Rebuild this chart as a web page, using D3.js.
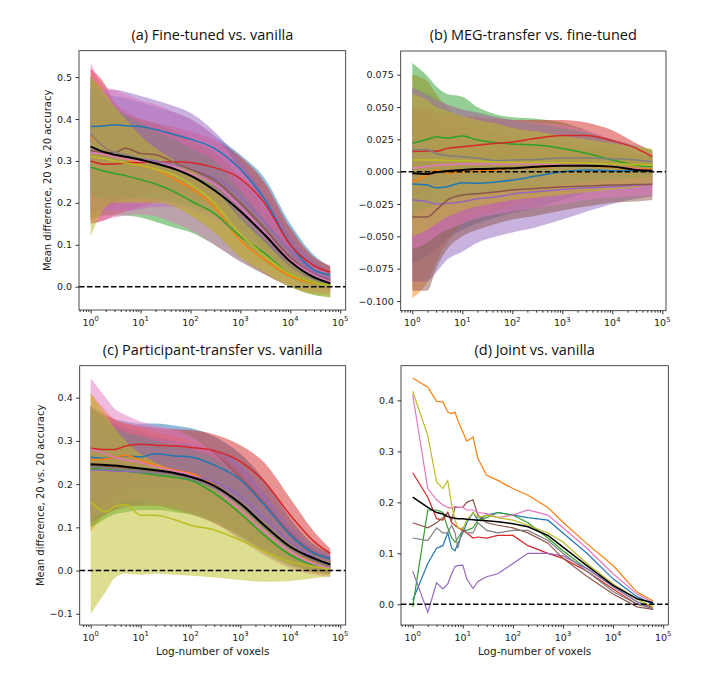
<!DOCTYPE html>
<html>
<head>
<meta charset="utf-8">
<script src="https://cdn.jsdelivr.net/npm/d3@7"></script>
<style>
body { margin: 0; background: #fff; }
text { font-family: "DejaVu Sans", sans-serif; }
</style>
</head>
<body>
<div id="chart"></div>
<script>
// tab10 order: blue, orange, green, red, purple, brown, pink, gray, olive
const colors = ["#1f77b4", "#ff7f0e", "#2ca02c", "#d62728", "#9467bd", "#8c564b", "#e377c2", "#7f7f7f", "#bcbd22"];

// voxel counts sampled for panels a-c
const vox = [1, 2, 3, 5, 10, 20, 50, 100, 300, 1000, 3000, 10000, 30000, 63000];

// (a) Fine-tuned vs. vanilla
const aMean = [
  [0.382, 0.384, 0.386, 0.384, 0.382, 0.375, 0.362, 0.352, 0.33, 0.28, 0.21, 0.1, 0.04, 0.028],
  [0.36, 0.33, 0.315, 0.305, 0.29, 0.28, 0.255, 0.235, 0.19, 0.11, 0.065, 0.025, 0.008, 0.003],
  [0.285, 0.275, 0.27, 0.265, 0.255, 0.245, 0.225, 0.205, 0.175, 0.12, 0.08, 0.03, 0.01, 0.003],
  [0.3, 0.292, 0.293, 0.295, 0.296, 0.297, 0.298, 0.296, 0.284, 0.258, 0.2, 0.1, 0.05, 0.035],
  [0.325, 0.32, 0.315, 0.31, 0.305, 0.3, 0.29, 0.28, 0.26, 0.215, 0.155, 0.085, 0.035, 0.018],
  [0.325, 0.32, 0.32, 0.33, 0.318, 0.315, 0.295, 0.28, 0.255, 0.2, 0.14, 0.07, 0.03, 0.015],
  [0.32, 0.315, 0.31, 0.305, 0.3, 0.295, 0.285, 0.27, 0.245, 0.19, 0.13, 0.065, 0.028, 0.012],
  [0.365, 0.33, 0.32, 0.315, 0.305, 0.295, 0.28, 0.265, 0.235, 0.165, 0.11, 0.05, 0.018, 0.008],
  [0.31, 0.305, 0.3, 0.295, 0.29, 0.28, 0.265, 0.245, 0.2, 0.125, 0.075, 0.03, 0.01, 0.003]
];
const aLo = [
  [0.29, 0.29, 0.29, 0.29, 0.285, 0.28, 0.27, 0.26, 0.23, 0.19, 0.13, 0.05, 0.01, 0.005],
  [0.16, 0.18, 0.19, 0.2, 0.2, 0.2, 0.19, 0.17, 0.13, 0.07, 0.03, 0.0, -0.015, -0.015],
  [0.16, 0.17, 0.17, 0.17, 0.165, 0.155, 0.14, 0.13, 0.1, 0.06, 0.03, 0.0, -0.02, -0.025],
  [0.15, 0.16, 0.17, 0.18, 0.19, 0.2, 0.21, 0.21, 0.2, 0.17, 0.12, 0.05, 0.015, 0.01],
  [0.18, 0.18, 0.18, 0.18, 0.185, 0.19, 0.19, 0.185, 0.16, 0.12, 0.08, 0.03, 0.0, -0.01],
  [0.17, 0.19, 0.2, 0.21, 0.22, 0.23, 0.22, 0.21, 0.19, 0.14, 0.09, 0.04, 0.01, 0.0],
  [0.15, 0.16, 0.165, 0.17, 0.172, 0.168, 0.15, 0.135, 0.1, 0.06, 0.03, 0.0, -0.015, -0.02],
  [0.22, 0.21, 0.21, 0.21, 0.21, 0.21, 0.2, 0.19, 0.17, 0.11, 0.06, 0.02, 0.0, -0.005],
  [0.12, 0.19, 0.2, 0.2, 0.2, 0.2, 0.19, 0.17, 0.13, 0.07, 0.035, 0.0, -0.02, -0.025]
];
const aHi = [
  [0.47, 0.46, 0.455, 0.45, 0.44, 0.43, 0.415, 0.4, 0.36, 0.315, 0.26, 0.15, 0.075, 0.048],
  [0.52, 0.47, 0.44, 0.4, 0.36, 0.34, 0.31, 0.29, 0.25, 0.18, 0.12, 0.06, 0.025, 0.015],
  [0.5, 0.46, 0.43, 0.4, 0.36, 0.33, 0.28, 0.26, 0.22, 0.16, 0.11, 0.05, 0.02, 0.01],
  [0.52, 0.48, 0.44, 0.42, 0.4, 0.39, 0.38, 0.37, 0.35, 0.31, 0.25, 0.14, 0.07, 0.05],
  [0.47, 0.47, 0.47, 0.465, 0.455, 0.445, 0.43, 0.415, 0.37, 0.3, 0.22, 0.12, 0.06, 0.035],
  [0.48, 0.44, 0.42, 0.41, 0.4, 0.39, 0.37, 0.35, 0.32, 0.26, 0.19, 0.1, 0.05, 0.03],
  [0.535, 0.475, 0.47, 0.46, 0.445, 0.435, 0.415, 0.4, 0.36, 0.28, 0.2, 0.1, 0.05, 0.03],
  [0.5, 0.45, 0.43, 0.41, 0.39, 0.37, 0.35, 0.33, 0.3, 0.23, 0.16, 0.09, 0.04, 0.025],
  [0.5, 0.46, 0.43, 0.4, 0.36, 0.33, 0.3, 0.28, 0.24, 0.17, 0.11, 0.055, 0.022, 0.012]
];
const aBlack = [0.334, 0.32, 0.315, 0.31, 0.303, 0.294, 0.28, 0.265, 0.23, 0.18, 0.125, 0.06, 0.022, 0.008];

// (b) MEG-transfer vs. fine-tuned
const bMean = [
  [-0.0096, -0.0103, -0.0124, -0.0117, -0.0085, -0.009, -0.0078, -0.0065, -0.0034, 0.0, 0.0013, 0.0008, 0.0008, 0.0008],
  [-0.0077, -0.0026, 0.0013, -0.0013, 0.0, 0.0005, 0.0015, 0.0026, 0.0035, 0.0044, 0.0042, 0.0035, 0.0025, 0.0018],
  [0.0219, 0.025, 0.027, 0.026, 0.0276, 0.0245, 0.0224, 0.0214, 0.0206, 0.018, 0.0142, 0.009, 0.005, 0.0039],
  [0.0155, 0.016, 0.0158, 0.018, 0.0193, 0.0205, 0.0219, 0.023, 0.0258, 0.028, 0.028, 0.024, 0.018, 0.0116],
  [-0.022, -0.0232, -0.025, -0.0245, -0.0232, -0.021, -0.0194, -0.0173, -0.0155, -0.0137, -0.0125, -0.0117, -0.0105, -0.0098],
  [-0.035, -0.035, -0.0297, -0.022, -0.018, -0.017, -0.0155, -0.0142, -0.013, -0.0117, -0.011, -0.0103, -0.01, -0.0098],
  [0.0026, 0.004, 0.005, 0.0055, 0.0059, 0.006, 0.006, 0.0059, 0.0058, 0.0055, 0.005, 0.004, 0.002, 0.0008],
  [0.017, 0.017, 0.014, 0.0125, 0.0116, 0.0103, 0.0085, 0.009, 0.0095, 0.0106, 0.0106, 0.01, 0.009, 0.0077],
  [0.009, 0.009, 0.009, 0.0088, 0.0085, 0.008, 0.0075, 0.007, 0.007, 0.0069, 0.0065, 0.006, 0.0055, 0.005]
];
const bLo = [
  [-0.07, -0.065, -0.06, -0.052, -0.045, -0.04, -0.035, -0.032, -0.028, -0.022, -0.016, -0.012, -0.01, -0.01],
  [-0.098, -0.085, -0.07, -0.055, -0.04, -0.035, -0.03, -0.027, -0.022, -0.018, -0.015, -0.012, -0.01, -0.008],
  [-0.035, -0.025, -0.018, -0.012, -0.008, -0.006, -0.004, -0.003, -0.002, -0.002, -0.003, -0.004, -0.004, -0.004],
  [-0.02, -0.015, -0.012, -0.008, -0.005, -0.002, 0.0, 0.002, 0.004, 0.006, 0.005, 0.002, 0.0, 0.0],
  [-0.085, -0.085, -0.078, -0.068, -0.062, -0.055, -0.05, -0.047, -0.043, -0.037, -0.031, -0.025, -0.021, -0.019],
  [-0.092, -0.092, -0.075, -0.06, -0.05, -0.045, -0.04, -0.037, -0.034, -0.03, -0.027, -0.024, -0.023, -0.022],
  [-0.06, -0.055, -0.05, -0.045, -0.04, -0.036, -0.033, -0.031, -0.028, -0.025, -0.022, -0.02, -0.019, -0.018],
  [-0.03, -0.028, -0.025, -0.022, -0.02, -0.018, -0.016, -0.014, -0.012, -0.01, -0.008, -0.006, -0.005, -0.004],
  [-0.05, -0.045, -0.04, -0.035, -0.03, -0.027, -0.024, -0.022, -0.02, -0.018, -0.016, -0.014, -0.012, -0.01]
];
const bHi = [
  [0.05, 0.045, 0.04, 0.035, 0.03, 0.027, 0.024, 0.022, 0.02, 0.019, 0.017, 0.014, 0.012, 0.012],
  [0.075, 0.07, 0.06, 0.05, 0.04, 0.035, 0.03, 0.027, 0.025, 0.022, 0.02, 0.017, 0.013, 0.012],
  [0.084, 0.074, 0.066, 0.06, 0.058, 0.05, 0.044, 0.042, 0.041, 0.038, 0.032, 0.024, 0.015, 0.012],
  [0.05, 0.048, 0.046, 0.045, 0.043, 0.042, 0.041, 0.04, 0.04, 0.04, 0.038, 0.032, 0.022, 0.016],
  [0.03, 0.02, 0.015, 0.012, 0.01, 0.008, 0.008, 0.007, 0.006, 0.005, 0.004, 0.002, 0.0, -0.002],
  [0.02, 0.015, 0.01, 0.01, 0.008, 0.007, 0.006, 0.005, 0.004, 0.003, 0.002, 0.001, 0.0, 0.0],
  [0.065, 0.058, 0.055, 0.052, 0.048, 0.045, 0.042, 0.04, 0.038, 0.036, 0.032, 0.025, 0.018, 0.015],
  [0.065, 0.06, 0.056, 0.052, 0.048, 0.046, 0.042, 0.04, 0.037, 0.034, 0.03, 0.025, 0.02, 0.017],
  [0.06, 0.055, 0.05, 0.047, 0.043, 0.04, 0.037, 0.034, 0.031, 0.028, 0.025, 0.022, 0.019, 0.018]
];
const bBlack = [-0.0013, -0.0018, -0.0005, 0.0005, 0.0013, 0.002, 0.0024, 0.0026, 0.0038, 0.0046, 0.0046, 0.0039, 0.0013, 0.0008];

// (c) Participant-transfer vs. vanilla
const cMean = [
  [0.262, 0.26, 0.262, 0.265, 0.263, 0.27, 0.265, 0.263, 0.244, 0.21, 0.152, 0.082, 0.04, 0.028],
  [0.256, 0.258, 0.262, 0.266, 0.255, 0.244, 0.232, 0.225, 0.198, 0.155, 0.103, 0.05, 0.02, 0.01],
  [0.236, 0.234, 0.232, 0.23, 0.226, 0.221, 0.215, 0.209, 0.179, 0.132, 0.082, 0.036, 0.013, 0.009],
  [0.283, 0.28, 0.28, 0.288, 0.292, 0.29, 0.288, 0.285, 0.277, 0.252, 0.206, 0.128, 0.067, 0.04],
  [0.232, 0.232, 0.23, 0.23, 0.228, 0.226, 0.222, 0.218, 0.205, 0.172, 0.122, 0.065, 0.03, 0.015],
  [0.243, 0.24, 0.24, 0.238, 0.234, 0.23, 0.222, 0.215, 0.195, 0.155, 0.105, 0.055, 0.025, 0.012],
  [0.281, 0.27, 0.262, 0.256, 0.25, 0.24, 0.23, 0.221, 0.19, 0.14, 0.09, 0.044, 0.015, 0.006],
  [0.24, 0.238, 0.236, 0.234, 0.23, 0.226, 0.22, 0.212, 0.19, 0.15, 0.1, 0.05, 0.022, 0.01],
  [0.159, 0.136, 0.148, 0.152, 0.128, 0.128, 0.117, 0.105, 0.094, 0.07, 0.044, 0.02, 0.009, 0.003]
];
const cLo = [
  [0.14, 0.16, 0.17, 0.18, 0.185, 0.19, 0.19, 0.185, 0.17, 0.14, 0.09, 0.04, 0.01, 0.0],
  [0.09, 0.13, 0.145, 0.155, 0.162, 0.16, 0.15, 0.14, 0.115, 0.085, 0.05, 0.015, -0.005, -0.01],
  [0.1, 0.12, 0.13, 0.135, 0.14, 0.14, 0.135, 0.13, 0.11, 0.075, 0.04, 0.01, -0.005, -0.008],
  [0.13, 0.16, 0.18, 0.2, 0.21, 0.21, 0.21, 0.21, 0.2, 0.18, 0.13, 0.06, 0.02, 0.01],
  [0.11, 0.13, 0.14, 0.15, 0.155, 0.16, 0.16, 0.155, 0.14, 0.11, 0.07, 0.03, 0.005, -0.005],
  [0.11, 0.13, 0.14, 0.15, 0.15, 0.15, 0.14, 0.13, 0.11, 0.08, 0.045, 0.015, 0.0, -0.005],
  [0.12, 0.14, 0.15, 0.16, 0.16, 0.155, 0.145, 0.135, 0.11, 0.07, 0.035, 0.005, -0.01, -0.015],
  [0.1, 0.13, 0.14, 0.145, 0.15, 0.15, 0.145, 0.135, 0.115, 0.08, 0.045, 0.015, 0.0, -0.005],
  [-0.1, -0.049, -0.018, -0.007, -0.01, -0.007, -0.01, -0.012, -0.016, -0.022, -0.026, -0.024, -0.018, -0.014]
];
const cHi = [
  [0.38, 0.36, 0.35, 0.345, 0.34, 0.34, 0.335, 0.33, 0.31, 0.27, 0.21, 0.12, 0.06, 0.04],
  [0.41, 0.37, 0.35, 0.34, 0.33, 0.32, 0.31, 0.3, 0.28, 0.23, 0.16, 0.09, 0.045, 0.03],
  [0.37, 0.34, 0.33, 0.32, 0.31, 0.3, 0.29, 0.28, 0.25, 0.19, 0.125, 0.065, 0.03, 0.025],
  [0.38, 0.36, 0.35, 0.34, 0.335, 0.33, 0.327, 0.325, 0.315, 0.29, 0.25, 0.167, 0.09, 0.051],
  [0.36, 0.34, 0.33, 0.32, 0.31, 0.305, 0.3, 0.295, 0.28, 0.245, 0.18, 0.1, 0.05, 0.035],
  [0.38, 0.35, 0.34, 0.33, 0.32, 0.31, 0.3, 0.29, 0.27, 0.22, 0.16, 0.09, 0.045, 0.03],
  [0.445, 0.4, 0.375, 0.36, 0.345, 0.335, 0.325, 0.31, 0.27, 0.21, 0.15, 0.08, 0.035, 0.025],
  [0.38, 0.35, 0.33, 0.32, 0.31, 0.3, 0.29, 0.28, 0.26, 0.21, 0.15, 0.085, 0.04, 0.025],
  [0.41, 0.36, 0.33, 0.3, 0.27, 0.25, 0.23, 0.21, 0.19, 0.15, 0.11, 0.06, 0.03, 0.02]
];
const cBlack = [0.246, 0.244, 0.243, 0.24, 0.236, 0.232, 0.225, 0.217, 0.196, 0.155, 0.105, 0.055, 0.028, 0.014];

// (d) Joint vs. vanilla, no bands, denser sampling
const voxD = [1, 2, 3, 4, 5, 6, 7, 8, 10, 12, 16, 20, 30, 50, 100, 200, 500, 1000, 3000, 10000, 30000, 63000];
const dMean = [
  [0.008, 0.08, 0.11, 0.115, 0.14, 0.11, 0.105, 0.12, 0.14, 0.16, 0.18, 0.165, 0.175, 0.18, 0.175, 0.17, 0.165, 0.14, 0.1, 0.05, 0.015, 0.0],
  [0.444, 0.426, 0.398, 0.397, 0.377, 0.374, 0.377, 0.36, 0.338, 0.32, 0.328, 0.286, 0.253, 0.243, 0.227, 0.214, 0.19, 0.161, 0.119, 0.076, 0.024, 0.0065],
  [-0.005, 0.185, 0.185, 0.18, 0.15, 0.13, 0.122, 0.13, 0.145, 0.145, 0.15, 0.165, 0.17, 0.18, 0.175, 0.16, 0.13, 0.105, 0.07, 0.035, 0.005, -0.005],
  [0.258, 0.21, 0.168, 0.165, 0.18, 0.16, 0.155, 0.15, 0.145, 0.14, 0.13, 0.132, 0.13, 0.135, 0.135, 0.115, 0.1, 0.09, 0.065, 0.03, 0.0, -0.005],
  [0.065, -0.016, 0.042, 0.03, 0.04, 0.06, 0.074, 0.076, 0.077, 0.05, 0.031, 0.045, 0.054, 0.06, 0.08, 0.1, 0.1, 0.095, 0.07, 0.035, 0.005, -0.01],
  [0.16, 0.15, 0.16, 0.17, 0.18, 0.165, 0.19, 0.19, 0.19, 0.2, 0.205, 0.175, 0.16, 0.155, 0.15, 0.14, 0.12, 0.09, 0.055, 0.02, -0.005, -0.01],
  [0.411, 0.227, 0.205, 0.195, 0.19, 0.188, 0.192, 0.19, 0.19, 0.185, 0.185, 0.18, 0.178, 0.17, 0.175, 0.185, 0.175, 0.15, 0.11, 0.06, 0.02, 0.003],
  [0.13, 0.125, 0.15, 0.14, 0.14, 0.155, 0.14, 0.11, 0.15, 0.14, 0.14, 0.16, 0.145, 0.14, 0.145, 0.145, 0.125, 0.1, 0.065, 0.025, 0.0, -0.008],
  [0.418, 0.331, 0.24, 0.227, 0.243, 0.194, 0.165, 0.15, 0.148, 0.165, 0.18, 0.17, 0.175, 0.17, 0.165, 0.155, 0.14, 0.122, 0.08, 0.04, 0.01, -0.005]
];
const dBlack = [0.21, 0.19, 0.18, 0.177, 0.172, 0.17, 0.169, 0.168, 0.168, 0.167, 0.166, 0.165, 0.164, 0.162, 0.158, 0.152, 0.135, 0.112, 0.076, 0.037, 0.011, 0.003];

const yLabel = "Mean difference, 20 vs. 20 accuracy";
const xLabel = "Log-number of voxels";

const svg = d3.select("#chart").append("svg")
  .attr("width", 706).attr("height", 679);

const panels = [
  {title: "(a) Fine-tuned vs. vanilla", l: 79, r: 345.7, t: 50.7, b: 310, xd: [-0.234, 5.11], yd: [-0.0556, 0.563],
   yt: [0, 0.1, 0.2, 0.3, 0.4, 0.5], fmt: ".1f", xs: vox, mean: aMean, lo: aLo, hi: aHi, black: aBlack, ylab: true, xlab: false, ty: 40, lx: 47},
  {title: "(b) MEG-transfer vs. fine-tuned", l: 400.7, r: 666, t: 51, b: 310.7, xd: [-0.232, 5.074], yd: [-0.1075, 0.0933],
   yt: [-0.1, -0.075, -0.05, -0.025, 0, 0.025, 0.05, 0.075], fmt: ".3f", xs: vox, mean: bMean, lo: bLo, hi: bHi, black: bBlack, ylab: false, xlab: false, ty: 40},
  {title: "(c) Participant-transfer vs. vanilla", l: 79.7, r: 345.7, t: 365.7, b: 625, xd: [-0.2205, 5.11], yd: [-0.126, 0.474],
   yt: [-0.1, 0, 0.1, 0.2, 0.3, 0.4], fmt: ".1f", xs: vox, mean: cMean, lo: cLo, hi: cHi, black: cBlack, ylab: true, xlab: true, ty: 355, lx: 40},
  {title: "(d) Joint vs. vanilla", l: 401, r: 668.3, t: 365.7, b: 625, xd: [-0.2335, 5.102], yd: [-0.0406, 0.468],
   yt: [0, 0.1, 0.2, 0.3, 0.4], fmt: ".1f", xs: voxD, mean: dMean, lo: null, hi: null, black: dBlack, ylab: false, xlab: true, ty: 355}
];

panels.forEach((p, pi) => drawPanel(p, pi));

function drawPanel(p, pi) {
  const g = svg.append("g");
  const x = d3.scaleLog().domain([Math.pow(10, p.xd[0]), Math.pow(10, p.xd[1])]).range([p.l, p.r]);
  const y = d3.scaleLinear().domain(p.yd).range([p.b, p.t]);

  g.append("clipPath").attr("id", "clip" + pi)
    .append("rect").attr("x", p.l).attr("y", p.t).attr("width", p.r - p.l).attr("height", p.b - p.t);
  const plot = g.append("g").attr("clip-path", "url(#clip" + pi + ")");

  const curve = p.lo ? d3.curveMonotoneX : d3.curveLinear;

  // shaded bands
  if (p.lo) {
    const area = d3.area().curve(curve)
      .x((d, i) => x(p.xs[i]))
      .y0(d => y(d[0])).y1(d => y(d[1]));
    p.lo.forEach((lo, s) => {
      plot.append("path")
        .datum(lo.map((v, i) => [v, p.hi[s][i]]))
        .attr("d", area)
        .attr("fill", colors[s]).attr("fill-opacity", 0.5);
    });
  }

  const line = d3.line().curve(curve).x((d, i) => x(p.xs[i])).y(d => y(d));
  p.mean.forEach((m, s) => {
    plot.append("path").datum(m).attr("d", line)
      .attr("fill", "none").attr("stroke", colors[s])
      .attr("stroke-width", p.lo ? 1.5 : 1.2);
  });
  plot.append("path").datum(p.black).attr("d", line)
    .attr("fill", "none").attr("stroke", "#000").attr("stroke-width", p.lo ? 2 : 1.5);

  // zero line
  g.append("line").attr("x1", p.l).attr("x2", p.r).attr("y1", y(0)).attr("y2", y(0))
    .attr("stroke", "#000").attr("stroke-width", 1.5).attr("stroke-dasharray", "5.5,2.5");

  // axes
  const majors = [1, 10, 100, 1000, 10000, 100000];
  const minors = [];
  for (let e = -1; e < 5; e++) {
    for (let k = 2; k < 10; k++) {
      const v = k * Math.pow(10, e);
      if (v >= x.domain()[0] && v <= x.domain()[1]) minors.push(v);
    }
  }
  const xg = g.append("g").attr("transform", "translate(0," + p.b + ")");
  xg.append("g").call(d3.axisBottom(x).tickValues(minors).tickSize(2).tickFormat(""));
  xg.append("g").call(d3.axisBottom(x).tickValues(majors).tickSize(3.5).tickFormat(""));
  xg.selectAll(".domain").remove();
  xg.selectAll("line").attr("stroke", "#000").attr("stroke-width", 0.8);

  const xt = g.selectAll(".xtl").data(majors).enter().append("text")
    .attr("x", d => x(d)).attr("y", p.b + 15.5)
    .attr("text-anchor", "middle").attr("font-size", "9.5px").attr("fill", "#222");
  xt.append("tspan").text("10");
  xt.append("tspan").attr("dy", -4.5).attr("font-size", "6.8px").text(d => Math.round(Math.log10(d)));

  const yg = g.append("g").attr("transform", "translate(" + p.l + ",0)")
    .call(d3.axisLeft(y).tickValues(p.yt).tickSize(3.5).tickPadding(3.5)
      .tickFormat(d => d3.format(p.fmt)(d).replace("-", "\u2212")));
  yg.selectAll(".domain").remove();
  yg.selectAll("line").attr("stroke", "#000").attr("stroke-width", 0.8);
  yg.selectAll("text").attr("font-size", "9.5px").attr("font-family", "DejaVu Sans").attr("fill", "#222");

  // frame
  g.append("rect").attr("x", p.l).attr("y", p.t).attr("width", p.r - p.l).attr("height", p.b - p.t)
    .attr("fill", "none").attr("stroke", "#222").attr("stroke-width", 0.8);

  // title
  g.append("text").attr("x", (p.l + p.r) / 2).attr("y", p.ty)
    .attr("text-anchor", "middle").attr("font-size", "14.5px")
    .style("font-family", "'Open Sans', sans-serif").attr("fill", "#111")
    .text(p.title);

  if (p.ylab) {
    g.append("text")
      .attr("transform", "translate(" + (p.lx + 3.5) + "," + ((p.t + p.b) / 2) + ") rotate(-90)")
      .attr("text-anchor", "middle").attr("font-size", "10px").attr("fill", "#222")
      .text(yLabel);
  }
  if (p.xlab) {
    g.append("text").attr("x", (p.l + p.r) / 2).attr("y", p.b + 30)
      .attr("text-anchor", "middle").attr("font-size", "10.5px").attr("fill", "#222")
      .text(xLabel);
  }
}
</script>
</body>
</html>
